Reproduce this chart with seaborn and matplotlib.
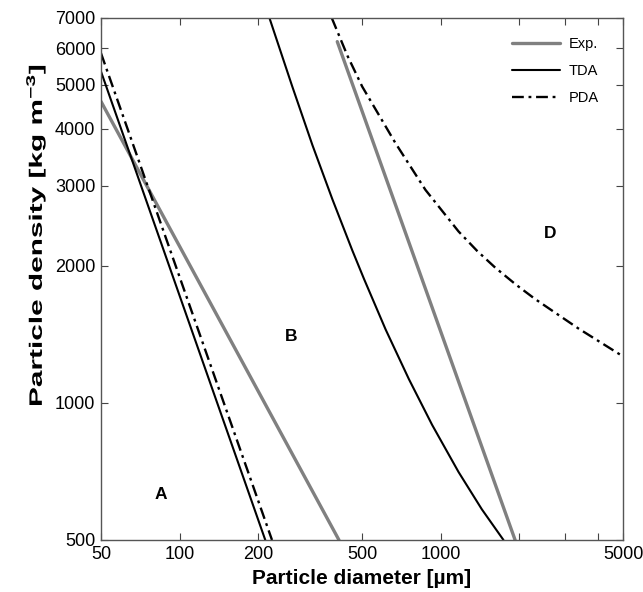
import numpy as np
import pandas as pd
import matplotlib
matplotlib.use("Agg")
import matplotlib.pyplot as plt
import matplotlib.patheffects as pe
from matplotlib.transforms import Affine2D
import seaborn as sns

# ---- data (diameter in µm, density in kg m^-3) ----
exp1_d = [50, 408]
exp1_rho = [4590, 500]
exp2_d = [402, 1930]
exp2_rho = [6212, 500]

tda1_d = [50, 213]
tda1_rho = [5340, 500]
tda2_d = [221, 270, 323, 385, 459, 509, 616, 756, 928, 1172, 1439, 1742]
tda2_rho = [7000, 4960, 3679, 2800, 2162, 1871, 1449, 1128, 895, 705, 584, 500]

pda1_d = [50, 226]
pda1_rho = [5858, 500]
pda2_d = [383, 440, 501, 672, 875, 1172, 1380, 1619, 1950, 2301, 3366, 5000]
pda2_rho = [7000, 5780, 4948, 3717, 2936, 2379, 2157, 1982, 1816, 1691, 1458, 1265]

models = ["Exp.", "TDA", "PDA"]
x_ticks = [50, 100, 200, 500, 1000, 2000, 3000, 4000, 5000]
x_ticklabels = ["50", "100", "200", "500", "1000", "", "", "", "5000"]
y_ticks = [500, 1000, 2000, 3000, 4000, 5000, 6000, 7000]
y_ticklabels = ["500", "1000", "2000", "3000", "4000", "5000", "6000", "7000"]
region_labels = ["A", "B", "D"]
region_d = [84.7, 267, 2639]
region_rho = [629, 1400, 2360]

frames = []
for model, seg, d, r in [
    ("Exp.", "e1", exp1_d, exp1_rho), ("Exp.", "e2", exp2_d, exp2_rho),
    ("TDA", "t1", tda1_d, tda1_rho), ("TDA", "t2", tda2_d, tda2_rho),
    ("PDA", "p1", pda1_d, pda1_rho), ("PDA", "p2", pda2_d, pda2_rho),
]:
    frames.append(pd.DataFrame({"d": d, "rho": r, "model": model, "seg": seg}))
df = pd.concat(frames, ignore_index=True)

sns.set_theme(style="ticks")
plt.rcParams["font.family"] = ["Liberation Sans", "DejaVu Sans"]
plt.rcParams["text.color"] = "black"
plt.rcParams["axes.labelcolor"] = "black"
plt.rcParams["xtick.color"] = "#444444"
plt.rcParams["ytick.color"] = "#444444"
plt.rcParams["xtick.labelcolor"] = "black"
plt.rcParams["ytick.labelcolor"] = "black"
plt.rcParams["mathtext.fontset"] = "custom"
plt.rcParams["mathtext.rm"] = "Liberation Sans"
plt.rcParams["mathtext.bf"] = "Liberation Sans:bold"


class Stretch(pe.AbstractPathEffect):
    """Stretch glyphs along the text direction (label in the reference is elongated)."""

    def __init__(self, sx=1.0):
        super().__init__()
        self._sx = sx

    def draw_path(self, renderer, gc, tpath, affine, rgbFace=None):
        renderer.draw_path(gc, tpath, Affine2D().scale(self._sx, 1.0) + affine, rgbFace)


fig = plt.figure(figsize=(6.43, 5.92), dpi=100)
ax = fig.add_axes([101 / 643, 1 - 540 / 592, 522 / 643, 522 / 592])

sns.lineplot(
    data=df, x="d", y="rho", hue="model", style="model", size="model",
    units="seg", estimator=None, sort=False, ax=ax,
    hue_order=models, style_order=models, size_order=models,
    palette={"Exp.": "#808080", "TDA": "black", "PDA": "black"},
    dashes={"Exp.": "", "TDA": "", "PDA": (5, 2, 1.2, 2)},
    sizes={"Exp.": 2.4, "TDA": 1.5, "PDA": 1.7},
)

ax.set_xscale("log")
ax.set_yscale("log")
ax.set_xlim(50, 5000)
ax.set_ylim(500, 7000)
ax.xaxis.set_major_locator(matplotlib.ticker.FixedLocator(x_ticks))
ax.xaxis.set_minor_locator(matplotlib.ticker.NullLocator())
ax.set_xticklabels(x_ticklabels)
ax.yaxis.set_major_locator(matplotlib.ticker.FixedLocator(y_ticks))
ax.yaxis.set_minor_locator(matplotlib.ticker.NullLocator())
ax.set_yticklabels(y_ticklabels)

ax.tick_params(which="both", direction="in", top=True, right=True, length=5,
               width=0.8, labelsize=13, pad=4)
for s in ax.spines.values():
    s.set_visible(True)
    s.set_color("#555555")
    s.set_linewidth(1.0)

ax.set_xlabel("Particle diameter [µm]", fontsize=15, fontweight="bold", labelpad=5)
ylab = ax.set_ylabel("Particle density [kg m$^{\\mathbf{-3}}$]", fontsize=13,
                     fontweight="bold", rotation=90, rotation_mode="anchor",
                     ha="left", va="baseline")
ax.yaxis.set_label_coords(42 / 643, 185 / 592, transform=fig.transFigure)
ylab.set_path_effects([Stretch(1.65)])

for t, x, y in zip(region_labels, region_d, region_rho):
    ax.text(x, y, t, fontsize=12.5, fontweight="bold", ha="center", va="center")

handles, labels = ax.get_legend_handles_labels()
leg = ax.legend(handles, labels, loc="upper right", frameon=False, fontsize=10.5,
                handlelength=3.3, handletextpad=0.6, labelspacing=0.9,
                borderaxespad=0.0, bbox_to_anchor=(0.965, 0.975))

fig.savefig("out.png", dpi=100)
